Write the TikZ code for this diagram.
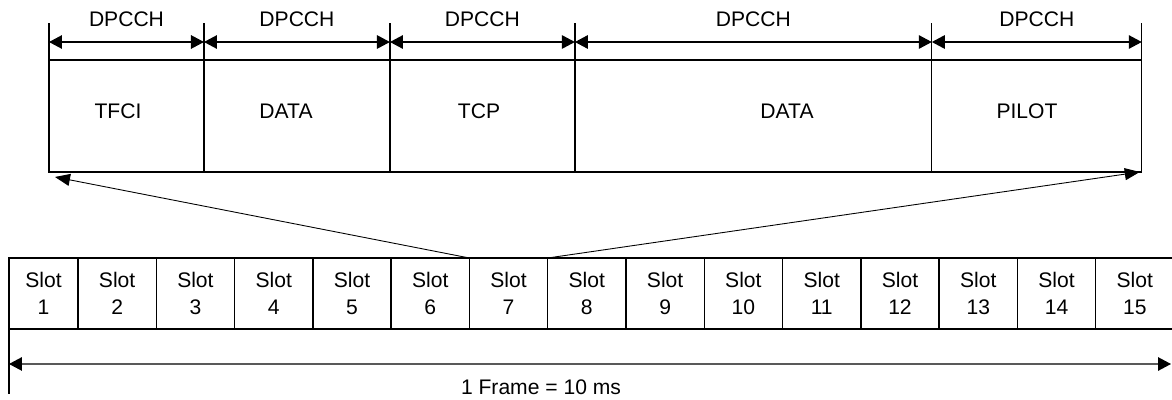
\documentclass[tikz,border=0pt]{standalone}
\usepackage{fontspec}
\setmainfont{Liberation Sans}
\usetikzlibrary{arrows.meta}
\begin{document}
\begin{tikzpicture}[x=0.02cm, y=-0.02cm, line width=0.75pt,
	>={Triangle[length=0.26cm,width=0.27cm]},
	feld/.style={
		draw,
		inner sep=0pt,
		outer sep=0pt,
		anchor=north west,
		minimum height=2.24cm
	},
	slot/.style={
		draw,
		align=center,
		inner sep=0pt,
		outer sep=0pt,
		anchor=north west,
		minimum width=1.566cm,
		minimum height=1.42cm,
		font=\fontsize{12}{15}\selectfont
	},
	txt/.style={font=\fontsize{12}{15}\selectfont},
	fan/.style={->, line width=0.5pt, >={Triangle[length=0.3cm,width=0.24cm]}}
	]
	
	\useasboundingbox (0,0) rectangle (1172,399);
	
	%Slot-Aufbau oben
	\node[feld, minimum width=3.1cm]  (tfci)  at (49,60) {};
	\node[feld, minimum width=3.72cm] (data1) at (tfci.north east) {};
	\node[feld, minimum width=3.7cm]  (tcp)   at (data1.north east) {};
	\node[feld, minimum width=7.14cm] (data2) at (tcp.north east) {};
	\node[feld, minimum width=4.2cm]  (pilot) at (data2.north east) {};
	
	\node[txt] (l-tfci)  at (118,111) {TFCI};
	\node[txt] (l-data1) at (286,111) {DATA};
	\node[txt] (l-tcp)   at (479,111) {TCP};
	\node[txt] (l-data2) at (787,111) {DATA};
	\node[txt] (l-pilot) at (1027,111) {PILOT};
	
	%Bemassung DPCCH
	\foreach \c in {tfci,data1,tcp,data2,pilot} {
		\draw (\c.north west) -- ++(0,-37);
		\draw[<->] ([yshift=0.36cm]\c.north west) -- ([yshift=0.36cm]\c.north east)
		node[txt, midway, yshift=0.46cm] (dp-\c) {DPCCH};
	}
	\draw (pilot.north east) -- ++(0,-37);
	
	%Rahmen mit 15 Slots
	\node[slot, minimum width=1.38cm] (s1) at (9,258) {Slot\\1};
	\foreach \i [remember=\i as \j (initially 1)] in {2,...,15}
	\node[slot] (s\i) at (s\j.north east) {Slot\\\i};
	
	%Aufweitung Slot 7
	\draw[fan] (s6.north east) -- ([shift={(6,5)}]tfci.south west);
	\draw[fan] (s7.north east) -- ([shift={(-2,0)}]pilot.south east);
	
	%Rahmendauer
	\coordinate (fl) at ([yshift=-0.7cm]s1.south west);
	\coordinate (fr) at (1171,364);
	\draw (s1.south west) -- ++(0,65);
	\draw[<->] (fl) -- (fr);
	\node[txt] (frame) at (541,387) {1 Frame = 10 ms};
	
\end{tikzpicture}
\end{document}
